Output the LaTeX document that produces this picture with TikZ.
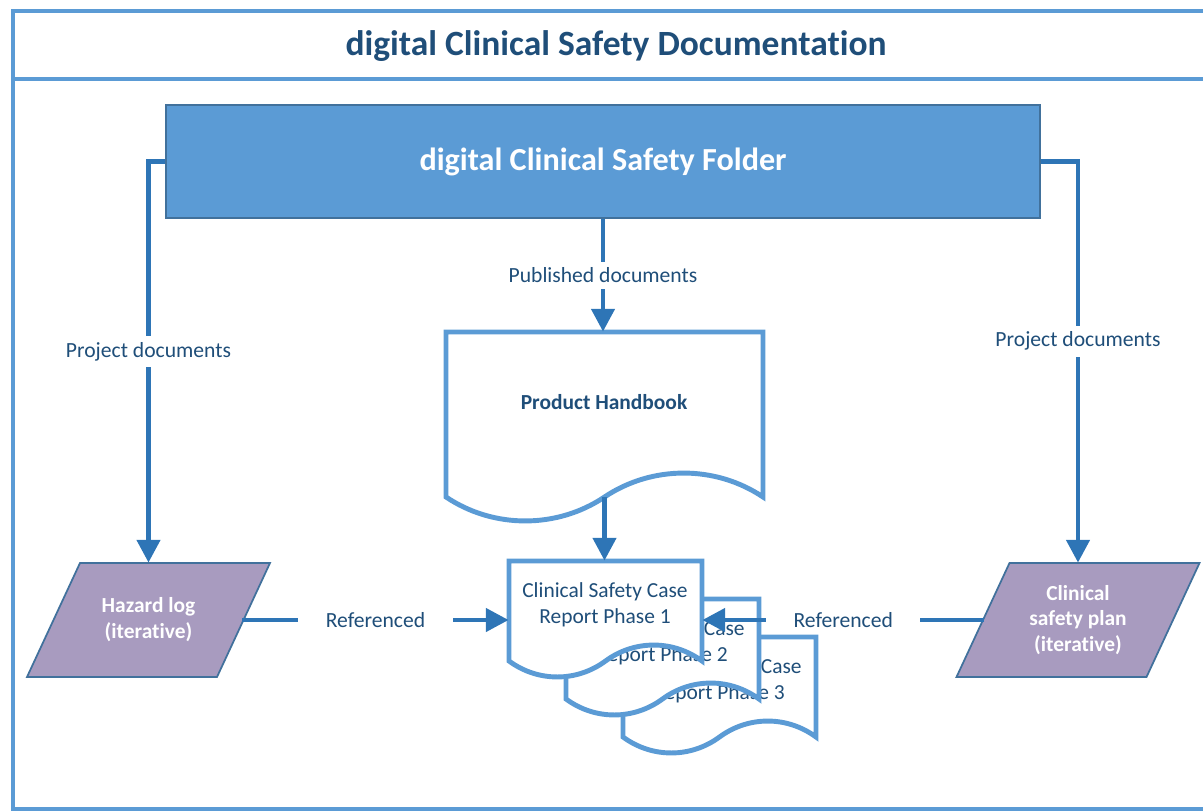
\documentclass[tikz,border=0pt]{standalone}
\usepackage{fontspec}
\setmainfont{Carlito}[Ligatures=NoCommon]
\usetikzlibrary{arrows.meta}
\definecolor{frameblue}{HTML}{5B9BD5}
\definecolor{linkblue}{HTML}{2E75B6}
\definecolor{edgeblue}{HTML}{41719C}
\definecolor{inkblue}{HTML}{1F4E79}
\definecolor{logpurple}{HTML}{A89BBF}
\tikzset{
  frame/.style={draw=frameblue, line width=2.3pt},
  heading/.style={text=inkblue, font=\fontsize{20.2}{24}\selectfont\bfseries},
  folderbox/.style={draw=edgeblue, fill=frameblue, line width=1pt, text=white,
    font=\fontsize{18.3}{22}\selectfont\bfseries, minimum width=17.48cm, minimum height=2.26cm},
  docline/.style={draw=frameblue, fill=white, line width=2.8pt},
  docbody/.style={draw=none, inner sep=0pt},
  doctext/.style={text=inkblue, align=center, font=\fontsize{12.2}{14.7}\selectfont},
  paraline/.style={draw=edgeblue, fill=logpurple, line width=1pt},
  paratext/.style={text=white, align=center, font=\fontsize{12.2}{14.7}\selectfont\bfseries,
    minimum width=3.74cm, minimum height=2.28cm, inner sep=0pt},
  conn/.style={draw=linkblue, line width=2.8pt, -{Triangle[length=13pt,width=13pt]}},
  lbl/.style={fill=white, text=inkblue, font=\fontsize{12.3}{14}\selectfont, inner xsep=2pt, inner ysep=3.5pt},
  reflbl/.style={lbl, inner xsep=0.55cm}
}
\newcommand{\makedoc}[6]{%
  \filldraw[docline] (#2,#3) -- ({#2+#4},#3) -- ({#2+#4},{#3+#5})
    .. controls ({#2+0.85*#4},{#3+#5-1.33*#6}) and ({#2+0.65*#4},{#3+#5-1.33*#6}) .. ({#2+0.5*#4},{#3+#5})
    .. controls ({#2+0.35*#4},{#3+#5+1.33*#6}) and ({#2+0.15*#4},{#3+#5+1.33*#6}) .. (#2,{#3+#5}) -- cycle;
  \node[docbody, minimum width={#4*0.02cm}, minimum height={#5*0.02cm}] (#1) at ({#2+0.5*#4},{#3+0.5*#5}) {};
}
\newcommand{\makepara}[4]{%
  \filldraw[paraline] ({#2-68.5},{#3-57}) -- ({#2+121.5},{#3-57}) -- ({#2+68.5},{#3+57}) -- ({#2-121.5},{#3+57}) -- cycle;
  \node[paratext] (#1) at (#2,#3) {#4};
}
\begin{document}
\begin{tikzpicture}[x=0.02cm, y=-0.02cm]
  \useasboundingbox (0,0) rectangle (1203,811);
  \clip (0,0) rectangle (1203,811);
  \draw[frame] (13,11) rectangle (1230,809);
  \draw[frame] (13,79) -- (1230,79);
  \node[heading] (title) at (616,46) {digital Clinical Safety Documentation};
  \node[folderbox] (folder) at (603,161.5) {digital Clinical Safety Folder};
  \makedoc{hb}{446}{332}{317}{165}{24}
  \node[doctext, font=\fontsize{12.2}{14.7}\selectfont\bfseries] (hbtext) at (604,402) {Product Handbook};
  \makedoc{doc3}{623}{637}{193}{100}{16}
  \node[doctext] (doc3text) at (719,681) {Clinical Safety Case\\Report Phase 3};
  \makedoc{doc2}{566}{599}{193}{100}{16}
  \node[doctext] (doc2text) at (662,643) {Clinical Safety Case\\Report Phase 2};
  \makedoc{doc1}{509}{561}{193}{100}{16}
  \node[doctext] (doc1text) at (605,605) {Clinical Safety Case\\Report Phase 1};
  \makepara{hazard}{148.5}{620}{Hazard log\\(iterative)}
  \makepara{plan}{1078}{620}{Clinical\\safety plan\\(iterative)}
  \draw[conn] (folder.west) -| (hazard.north) node[lbl, pos=0.737] (projleft) {Project documents};
  \draw[conn] (folder.east) -| (plan.north) node[lbl, pos=0.724] (projright) {Project documents};
  \draw[conn] (folder.south) -- (folder.south |- hb.north) node[lbl, midway] (published) {Published documents};
  \draw[conn] (hb.south) -- (hb.south |- doc1.north);
  \draw[conn] (hazard.east) -- (hazard.east -| doc1.west) node[reflbl, midway] (refleft) {Referenced};
  \draw[conn] (plan.west) -- (plan.west -| doc1.east) node[reflbl, midway] (refright) {Referenced};
\end{tikzpicture}
\end{document}
